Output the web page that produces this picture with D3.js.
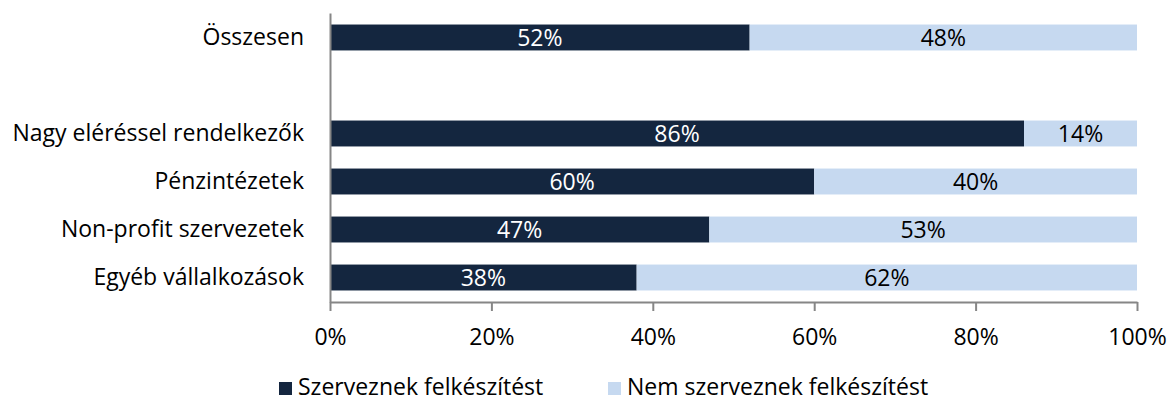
<!DOCTYPE html>
<html><head><meta charset="utf-8">
<script src="https://cdn.jsdelivr.net/npm/d3@7"></script>
<style>body{margin:0;background:#fff;} svg{display:block;font-family:"Open Sans", sans-serif;}</style>
</head><body>
<svg id="c" width="1169" height="403"></svg>
<script>
const categories = ["Összesen", "", "Nagy eléréssel rendelkezők", "Pénzintézetek", "Non-profit szervezetek", "Egyéb vállalkozások"];
const seriesNames = ["Szerveznek felkészítést", "Nem szerveznek felkészítést"];
const szerveznek = [52, null, 86, 60, 47, 38];
const nemSzerveznek = [48, null, 14, 40, 53, 62];
const xTicks = [0, 20, 40, 60, 80, 100];
const colors = ["#14263f", "#c6d9f0"];
const FS = 23;
const FF = "'Open Sans', sans-serif";

const svg = d3.select("#c");
const x = d3.scaleLinear().domain([0, 100]).range([330, 1137]);
const y = d3.scaleBand().domain(categories.map((c,i)=>i)).range([13, 302]).paddingInner(0.46).paddingOuter(0.24);

const rows = categories.map((c,i)=>({i, c, a: szerveznek[i], b: nemSzerveznek[i]})).filter(d=>d.a!=null);

const g = svg.append("g");
rows.forEach(d=>{
  g.append("rect").attr("x", x(0)).attr("y", y(d.i)).attr("width", x(d.a)-x(0)).attr("height", y.bandwidth()).attr("fill", colors[0]);
  g.append("rect").attr("x", x(d.a)).attr("y", y(d.i)).attr("width", x(d.a+d.b)-x(d.a)).attr("height", y.bandwidth()).attr("fill", colors[1]);
  g.append("text").attr("x", (x(0)+x(d.a))/2).attr("y", y(d.i)+y.bandwidth()/2).attr("dy","0.35em")
    .attr("text-anchor","middle").attr("fill","#fff").attr("font-size",FS).text(d.a+"%");
  g.append("text").attr("x", (x(d.a)+x(d.a+d.b))/2).attr("y", y(d.i)+y.bandwidth()/2).attr("dy","0.35em")
    .attr("text-anchor","middle").attr("fill","#000").attr("font-size",FS).text(d.b+"%");
});

const xa = svg.append("g").attr("transform","translate(0,302)")
  .call(d3.axisBottom(x).tickValues(xTicks).tickFormat(d=>d+"%").tickSize(9).tickSizeOuter(0));
xa.selectAll("path,line").attr("stroke","#868686").attr("stroke-width",2);
xa.selectAll("text").attr("y",43).attr("dy",0).attr("font-size",FS).attr("fill","#000").attr("font-family",FF);

const ya = svg.append("g").attr("transform","translate(330,0)")
  .call(d3.axisLeft(y).tickFormat(i=>categories[i]).tickSize(0).tickPadding(26));
ya.select("path").attr("stroke","#868686").attr("stroke-width",2);
ya.selectAll("text").attr("font-size",FS).attr("fill","#000").attr("font-family",FF);

const legX = [279, 608];
seriesNames.forEach((s,i)=>{
  svg.append("rect").attr("x", legX[i]).attr("y", 382).attr("width", 13).attr("height", 13).attr("fill", colors[i]);
  svg.append("text").attr("x", legX[i]+19).attr("y", 395).attr("font-size",FS).attr("fill","#000").text(s);
});
</script>
</body></html>
